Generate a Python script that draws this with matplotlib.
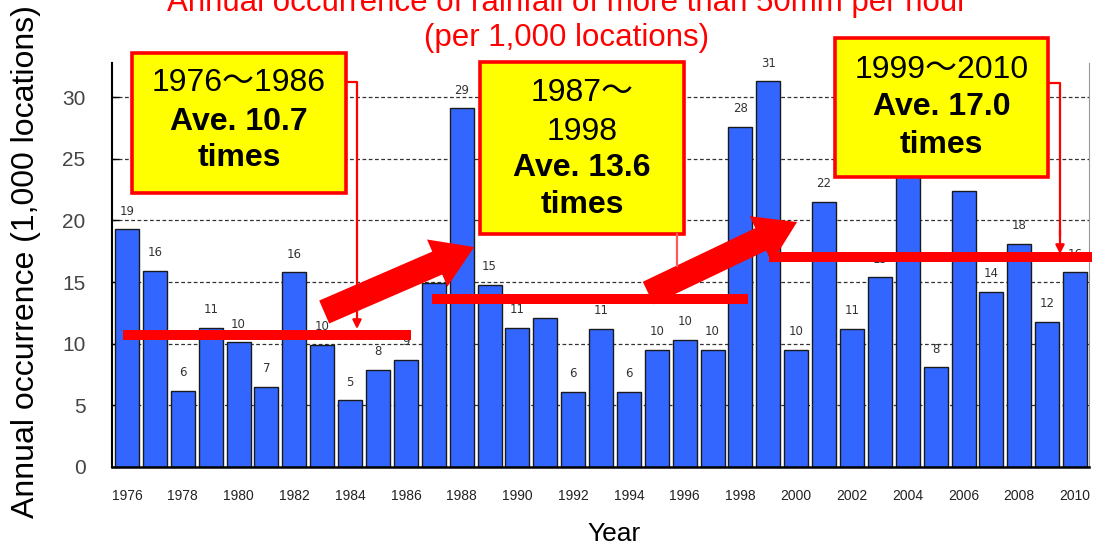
import math
import matplotlib
matplotlib.use("Agg")
import matplotlib.pyplot as plt
from matplotlib.patches import Rectangle, FancyArrowPatch, ArrowStyle
from matplotlib.lines import Line2D

plt.rcParams['font.family'] = ['Liberation Sans', 'Noto Sans CJK JP', 'DejaVu Sans']

# ---- data -----------------------------------------------------------------
years = list(range(1976, 2011))
occurrences = [19.3, 15.9, 6.2, 11.3, 10.1, 6.5, 15.8, 9.9, 5.4, 7.9, 8.7,
               14.9, 29.1, 14.8, 11.3, 12.1, 6.1, 11.2, 6.1, 9.5, 10.3, 9.5, 27.6,
               31.3, 9.5, 21.5, 11.2, 15.4, 25.2, 8.1, 22.4, 14.2, 18.1, 11.8, 15.8]
tick_years = list(range(1976, 2011, 2))
y_ticks = [0, 5, 10, 15, 20, 25, 30]

period_starts = [1976, 1987, 1999]
period_ends = [1986, 1998, 2010]
period_avgs = [10.7, 13.6, 17.0]
period_titles = [["1976～1986"], ["1987～", "1998"], ["1999～2010"]]

title_lines = ["Annual occurrence of rainfall of more than 50mm per hour",
               "(per 1,000 locations)"]
y_label = "Annual occurrence (1,000 locations)"
x_label = "Year"

# ---- figure ----------------------------------------------------------------
W, H = 1093, 544
fig = plt.figure(figsize=(W / 100, H / 100), dpi=100)


def fx(px):
    return px / W


def fy(py):
    return 1 - py / H


ax = fig.add_axes([fx(112), fy(467), fx(1089) - fx(112), fy(63) - fy(467)])

RED = '#ff0000'
BAR = '#3366ff'

ax.bar(years, occurrences, width=0.86, color=BAR, edgecolor='#1a1a1a',
       linewidth=1.0, zorder=2)

for yr, v in zip(years, occurrences):
    ax.annotate(str(math.floor(v + 0.5)), (yr, v), xytext=(0, 13),
                textcoords='offset points', ha='center', va='center',
                fontsize=8.5, color='#333333', family='DejaVu Sans', zorder=3)

ax.set_xlim(1975.46, 2010.5)
ax.set_ylim(0, 32.77)
ax.set_axisbelow(True)
ax.yaxis.grid(True, linestyle=(0, (3, 2)), color='#333333', linewidth=0.9)
ax.set_yticks(y_ticks)
ax.set_xticks(tick_years)
ax.set_xticklabels([str(t) for t in tick_years])
ax.tick_params(axis='x', length=0, pad=16, labelsize=10, labelcolor='#222222')
ax.tick_params(axis='y', direction='in', length=5, width=1, pad=19,
               labelsize=15, labelcolor='#444444')
ax.spines['top'].set_visible(False)
ax.spines['right'].set_color('#999999')
ax.spines['right'].set_linewidth(0.8)
ax.spines['left'].set_linewidth(1.5)
ax.spines['bottom'].set_linewidth(1.8)

# period average lines
line_spans = [(1975.86, 1986.19), (1986.94, 1998.27), (1999.03, 2010.61)]
for (x0, x1), avg in zip(line_spans, period_avgs):
    ax.plot([x0, x1], [avg, avg], color=RED, linewidth=7.2,
            solid_capstyle='butt', clip_on=False, zorder=4)

# thick trend arrows between periods
big_arrow = ArrowStyle('Simple', head_length=29, head_width=37, tail_width=18)
for tail, tip in [((1983.07, 12.57), (1988.45, 17.84)),
                  ((1994.69, 14.11), (2000.03, 19.87))]:
    ax.add_patch(FancyArrowPatch(tail, tip, arrowstyle=big_arrow, mutation_scale=1,
                                 shrinkA=0, shrinkB=0, color=RED, linewidth=0,
                                 zorder=4))

# ---- callout boxes ----------------------------------------------------------
boxes = [(132, 53, 346, 193), (480, 62, 684, 234), (835, 38, 1048, 177)]
line_rows = [[83, 122, 158], [93, 132, 168, 205], [70, 107, 145]]

for (x0, y0, x1, y1), rows, heads, avg in zip(boxes, line_rows, period_titles, period_avgs):
    fig.add_artist(Rectangle((fx(x0), fy(y1)), (x1 - x0) / W, (y1 - y0) / H,
                             transform=fig.transFigure, facecolor='#ffff00',
                             edgecolor=RED, linewidth=2.6, zorder=6))
    cx = fx((x0 + x1) / 2)
    texts = heads + [f"Ave. {avg:.1f}", "times"]
    for row, txt in zip(rows, texts):
        bold = txt.startswith("Ave") or txt == "times"
        fig.text(cx, fy(row), txt, ha='center', va='center', fontsize=23,
                 fontweight='bold' if bold else 'normal', color='black', zorder=7)

# thin connectors from boxes to the average lines
thin = dict(color=RED, linewidth=1.6, zorder=6)
fig.add_artist(Line2D([fx(346), fx(357), fx(357)], [fy(82), fy(82), fy(310)],
                      transform=fig.transFigure, **thin))
fig.add_artist(FancyArrowPatch((fx(357), fy(305)), (fx(357), fy(329)),
                               transform=fig.transFigure, arrowstyle='-|>',
                               mutation_scale=13, shrinkA=0, shrinkB=0, **thin))
fig.add_artist(Line2D([fx(1048), fx(1060), fx(1060)], [fy(83), fy(83), fy(235)],
                      transform=fig.transFigure, **thin))
fig.add_artist(FancyArrowPatch((fx(1060), fy(230)), (fx(1060), fy(254)),
                               transform=fig.transFigure, arrowstyle='-|>',
                               mutation_scale=13, shrinkA=0, shrinkB=0, **thin))
fig.add_artist(Line2D([fx(677), fx(677)], [fy(234), fy(266)],
                      transform=fig.transFigure, color='#ff5a5a', linewidth=1.6,
                      zorder=6))

# ---- titles and axis labels -------------------------------------------------
fig.text(fx(567), fy(11), title_lines[0], ha='center', va='baseline',
         fontsize=22.5, color=RED)
fig.text(fx(567), fy(46), title_lines[1], ha='center', va='baseline',
         fontsize=22.5, color=RED)
fig.text(fx(26), fy(262), y_label, rotation=90, ha='center', va='center',
         fontsize=23, color='black')
fig.text(fx(614), fy(541), x_label, ha='center', va='baseline',
         fontsize=19, color='black')

fig.savefig('out.png', dpi=100)
